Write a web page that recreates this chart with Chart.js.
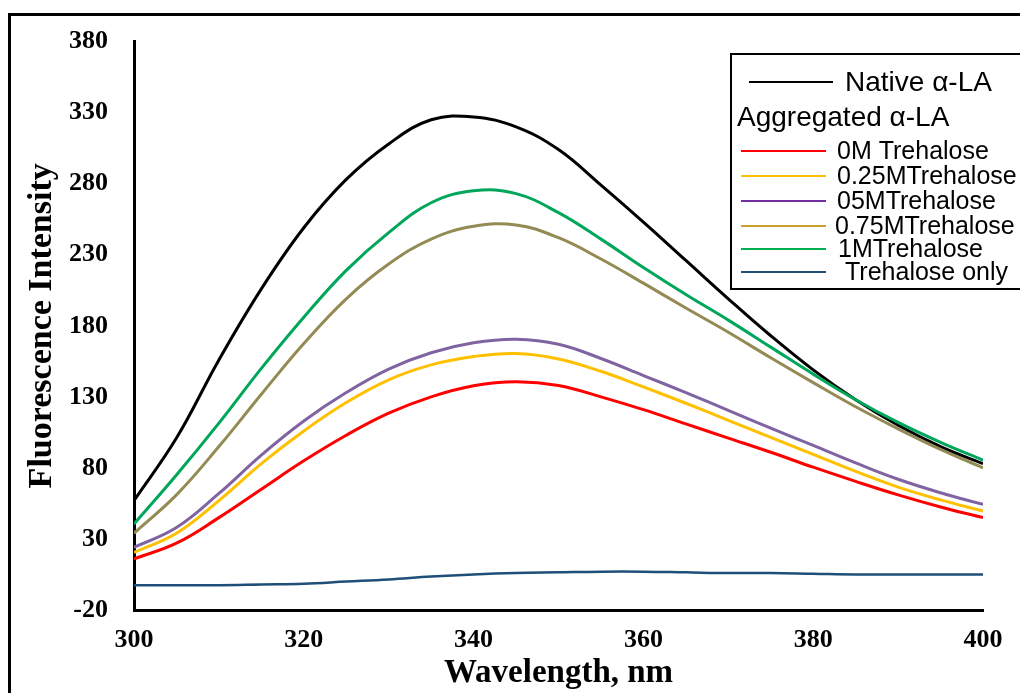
<!DOCTYPE html>
<html>
<head>
<meta charset="utf-8">
<script src="https://cdn.jsdelivr.net/npm/chart.js@4.4.0/dist/chart.umd.min.js"></script>
<style>
    html, body { margin: 0; padding: 0; background: #fff; }
    #wrap { width: 1020px; height: 693px; }
</style>
</head>
<body>
<div id="wrap"><canvas id="myChart" width="1020" height="693"></canvas></div>
<script>
// wavelength, nm
const wavelengths = [300, 305, 310, 315, 320, 325, 330, 335, 340, 345, 350,
                     355, 360, 365, 370, 375, 380, 385, 390, 395, 400];

const nativeLA      = [57, 101, 156, 206, 249, 283, 308, 325, 327, 320, 304, 279, 253, 226, 199, 173, 149, 128, 110, 95, 83];
const treh0M        = [16, 27, 45, 65, 85, 103, 118.5, 130, 137.8, 140.6, 138, 130, 121, 111, 101, 91, 80.5, 70.5, 61, 52.5, 45];
const treh025M      = [20.5, 34, 57, 83, 106, 126, 142, 152.5, 158.4, 160.5, 156.7, 148, 137, 125.5, 113.5, 101.5, 89.5, 77.5, 66.5, 57.5, 49.7];
const treh05M       = [24, 38, 62, 89, 113, 133, 149.5, 161, 168, 170.5, 167, 157, 145, 133, 120.5, 108, 95.8, 83.5, 72, 62.5, 54.3];
const treh075M      = [34, 61, 95, 131.8, 167.5, 199, 223.5, 241, 250, 251, 242, 227, 210, 192.5, 175.5, 157.5, 140, 123, 107.5, 93, 80];
const treh1M        = [40.5, 75, 111.5, 150, 186, 219, 245.6, 266.6, 275, 273, 259.6, 241, 221, 202, 184, 165, 146, 128, 112, 98, 85.5];
const trehaloseOnly = [-2.5, -2.5, -2.5, -2, -1.5, 0, 1.5, 3.5, 5, 6, 6.5, 7, 7, 6.5, 6, 6, 5.5, 5, 5, 5, 5];

const seriesLabels = ['Native \u03b1-LA', '0M Trehalose', '0.25MTrehalose', '05MTrehalose',
                      '0.75MTrehalose', '1MTrehalose', 'Trehalose only'];
const seriesData   = [nativeLA, treh0M, treh025M, treh05M, treh075M, treh1M, trehaloseOnly];
const lineColors   = ['#000000', '#ff0000', '#ffc000', '#8064a2', '#948a54', '#00a65a', '#1f4e79'];
const legendColors = ['#000000', '#ff0000', '#ffc000', '#7030a0', '#c9a227', '#00b050', '#1f4e79'];

const serif = 'Liberation Serif';
const sans = 'Liberation Sans';

const datasets = seriesData.map((vals, i) => ({
    label: seriesLabels[i],
    data: vals.map((v, j) => ({ x: wavelengths[j], y: v })),
    borderColor: lineColors[i],
    borderWidth: i === 6 ? 2.5 : 3,
    pointRadius: 0,
    fill: false,
    tension: 0.4
}));

// black drawn underneath the coloured curves
datasets.forEach((d, i) => { d.order = i === 0 ? 10 : 7 - i; });

const framePlugin = {
    id: 'frame',
    beforeDraw(chart) {
        const ctx = chart.ctx;
        ctx.save();
        ctx.fillStyle = '#fff';
        ctx.fillRect(0, 0, chart.width, chart.height);
        ctx.strokeStyle = '#000';
        ctx.lineWidth = 3;
        ctx.strokeRect(9.5, 14.5, 1100, 800);
        ctx.restore();
    }
};

const boxLegend = {
    id: 'boxLegend',
    afterDraw(chart) {
        const ctx = chart.ctx;
        const ds = chart.data.datasets;
        ctx.save();
        ctx.fillStyle = '#fff';
        ctx.fillRect(731, 54, 400, 235);
        ctx.strokeStyle = '#000';
        ctx.lineWidth = 2;
        ctx.strokeRect(731, 54, 400, 235);

        ctx.textBaseline = 'middle';
        ctx.textAlign = 'left';

        function row(color, x1, x2, y, text, tx, size) {
            ctx.strokeStyle = color;
            ctx.lineWidth = 2;
            ctx.beginPath();
            ctx.moveTo(x1, y);
            ctx.lineTo(x2, y);
            ctx.stroke();
            ctx.font = size + 'px "' + sans + '"';
            ctx.fillStyle = '#000';
            ctx.fillText(text, tx, y + 1);
        }

        row(legendColors[0], 749, 833, 82, ds[0].label, 845, 28);
        ctx.font = '28px "' + sans + '"';
        ctx.fillStyle = '#000';
        ctx.fillText('Aggregated \u03b1-LA', 737, 118);

        const rowsY = [151, 176, 201, 226, 249, 272];
        const textX = [837, 837, 837, 835, 838, 845];
        for (let i = 1; i < ds.length; i++) {
            row(legendColors[i], 741, 826, rowsY[i - 1], ds[i].label, textX[i - 1], 25);
        }
        ctx.restore();
    }
};

const ctx = document.getElementById('myChart').getContext('2d');
const chart = new Chart(ctx, {
    type: 'line',
    data: { datasets: datasets },
    plugins: [framePlugin, boxLegend],
    options: {
        responsive: false,
        animation: false,
        layout: { padding: { top: 38, right: 37, left: 0, bottom: 0 } },
        plugins: {
            legend: { display: false },
            tooltip: { enabled: false }
        },
        scales: {
            x: {
                type: 'linear',
                min: 300,
                max: 400,
                ticks: {
                    stepSize: 20,
                    padding: 15,
                    color: '#000',
                    font: { family: serif, weight: 'bold', size: 26 }
                },
                grid: { display: false, drawTicks: false },
                border: { display: true, color: '#000', width: 3 },
                title: {
                    display: true,
                    text: 'Wavelength, nm',
                    color: '#000',
                    font: { family: serif, weight: 'bold', size: 33 },
                    padding: { top: 0, bottom: 0 }
                },
                afterFit(scale) { scale.height = 83; }
            },
            y: {
                min: -20,
                max: 380,
                ticks: {
                    stepSize: 50,
                    padding: 26,
                    color: '#000',
                    font: { family: serif, weight: 'bold', size: 26 }
                },
                grid: { display: false, drawTicks: false },
                border: { display: true, color: '#000', width: 3 },
                title: {
                    display: true,
                    text: 'Fluorescence Intensity',
                    color: '#000',
                    font: { family: serif, weight: 'bold', size: 34 },
                    padding: { top: 22, bottom: 0 }
                },
                afterFit(scale) { scale.width = 134; }
            }
        }
    }
});
</script>
</body>
</html>
